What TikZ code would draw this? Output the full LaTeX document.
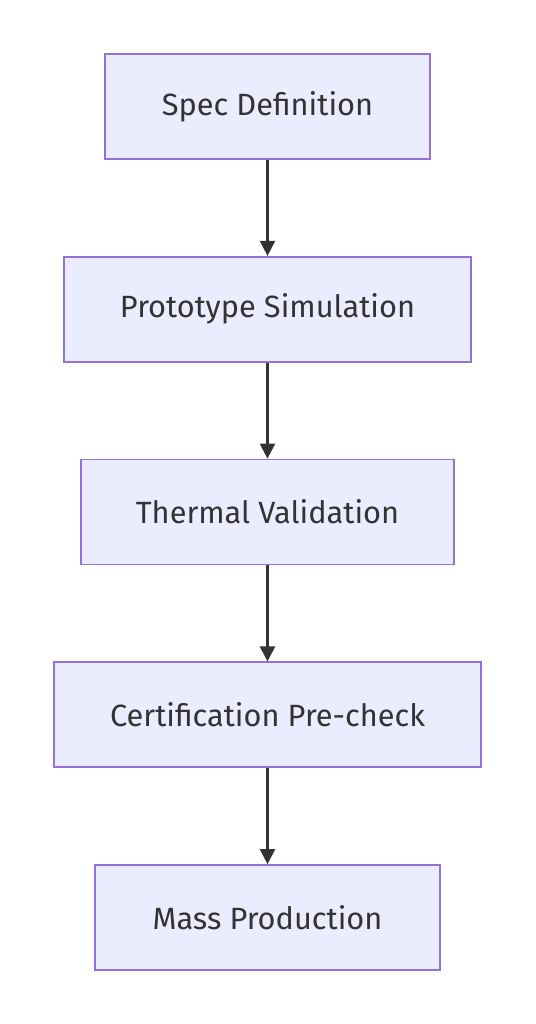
\documentclass[tikz,border=0pt]{standalone}
\usepackage{fontspec}
\setmainfont{Fira Sans}
\usetikzlibrary{positioning, arrows.meta}
\definecolor{boxfill}{HTML}{ECECFF}
\definecolor{boxline}{HTML}{9370DB}
\definecolor{ink}{HTML}{333333}

\begin{document}
\begin{tikzpicture}[
  font=\fontsize{17.5}{21}\selectfont,
  stage/.style = {draw=boxline, fill=boxfill, line width=1pt, text=ink, minimum height=2.1cm, inner sep=0pt},
  flow/.style  = {draw=ink, line width=1.25pt, -{Triangle[length=0.3cm, width=0.3cm]}},
  node distance=1.92cm,
]
\useasboundingbox (0,0) rectangle (10.7,-20.48);
\node[stage, minimum width=6.5cm]  (spec)  at (5.35,-2.13) {Spec Definition};
\node[stage, minimum width=8.14cm, below=of spec]  (proto) {Prototype Simulation};
\node[stage, minimum width=7.46cm, below=of proto] (therm) {Thermal Validation};
\node[stage, minimum width=8.54cm, below=of therm] (cert)  {Certification Pre-check};
\node[stage, minimum width=6.9cm,  below=of cert]  (mass)  {Mass Production};
% arrows between stages
\draw[flow] (spec)  -- (proto);
\draw[flow] (proto) -- (therm);
\draw[flow] (therm) -- (cert);
\draw[flow] (cert)  -- (mass);
\end{tikzpicture}
\end{document}
